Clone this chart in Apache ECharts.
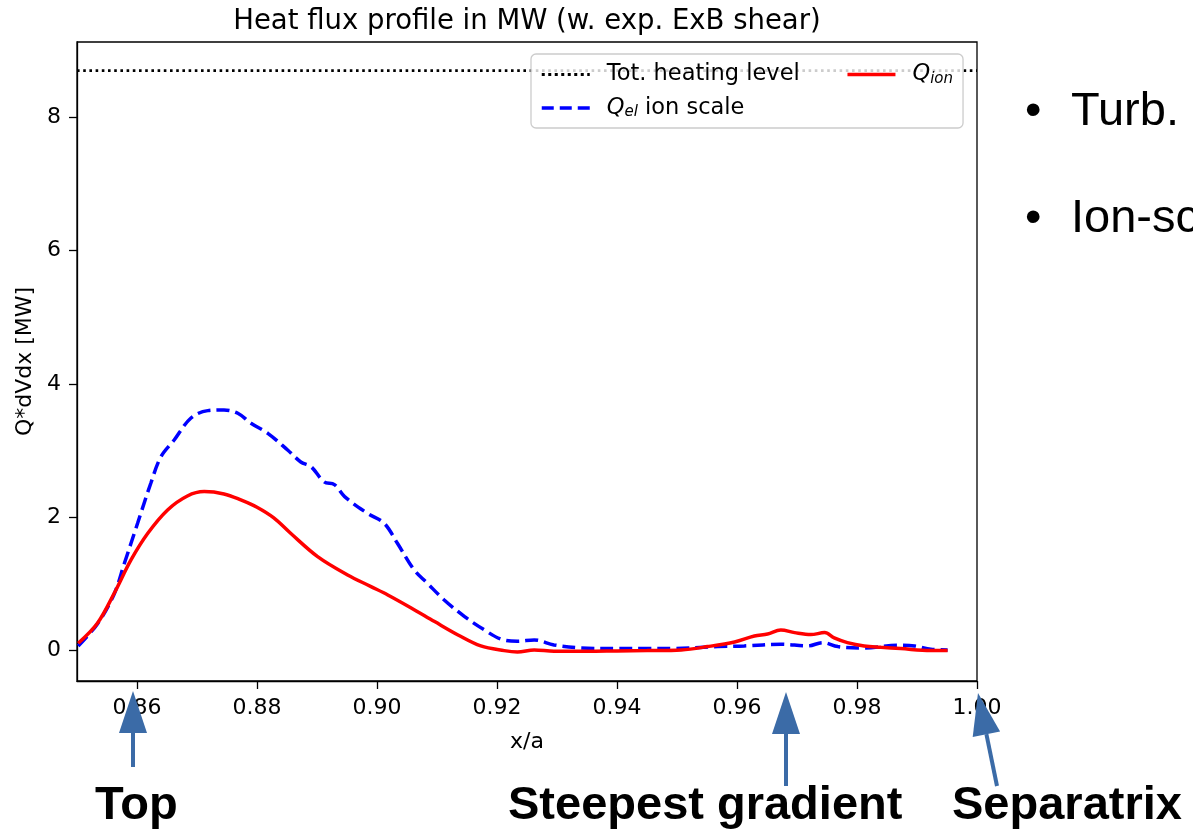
<!DOCTYPE html>
<html>
<head>
<meta charset="utf-8">
<script src="https://cdn.jsdelivr.net/npm/echarts@6/dist/echarts.min.js"></script>
<style>
html,body{margin:0;padding:0;background:#fff;}
#chart{width:1193px;height:830px;}
</style>
</head>
<body>
<div id="chart"></div>
<script>
// ---- data ----
var xTicks = [0.86, 0.88, 0.90, 0.92, 0.94, 0.96, 0.98, 1.00];
var yTicks = [0, 2, 4, 6, 8];
var heatingLevel = 8.7;
var heatingX = [0.85, 1.00];

var xIon = [0.8502, 0.8534, 0.8562, 0.859, 0.8618, 0.8651, 0.8684, 0.8712, 0.8745, 0.8773, 0.880, 0.8828, 0.8856, 0.8901, 0.8951, 0.899, 0.9018, 0.9057, 0.9096, 0.9135, 0.9173, 0.9212, 0.9234, 0.9262, 0.9295, 0.935, 0.940, 0.945, 0.9507, 0.9551, 0.9596, 0.9629, 0.9651, 0.9673, 0.9696, 0.9723, 0.9746, 0.9762, 0.9784, 0.9812, 0.984, 0.9873, 0.9923, 0.9951];
var yIon = [0.11, 0.41, 0.86, 1.36, 1.76, 2.11, 2.32, 2.385, 2.35, 2.26, 2.15, 1.99, 1.76, 1.41, 1.135, 0.96, 0.835, 0.64, 0.435, 0.235, 0.07, 0.0, -0.02, 0.01, -0.01, -0.01, -0.005, 0.0, 0.01, 0.06, 0.13, 0.22, 0.25, 0.31, 0.27, 0.24, 0.27, 0.19, 0.12, 0.07, 0.05, 0.03, 0.0, 0.0];

var xEl = [0.8502, 0.8534, 0.8562, 0.8579, 0.8601, 0.8623, 0.864, 0.8662, 0.869, 0.8718, 0.8745, 0.8768, 0.879, 0.8818, 0.8851, 0.8873, 0.889, 0.8912, 0.8929, 0.8946, 0.8984, 0.9012, 0.9034, 0.9062, 0.9084, 0.9112, 0.9146, 0.9179, 0.9207, 0.9234, 0.9262, 0.9295, 0.934, 0.940, 0.945, 0.949, 0.9568, 0.9612, 0.9673, 0.9718, 0.9743, 0.9768, 0.9812, 0.9868, 0.9896, 0.9923, 0.9951];
var yEl = [0.07, 0.40, 0.85, 1.31, 1.91, 2.51, 2.91, 3.16, 3.49, 3.60, 3.61, 3.56, 3.41, 3.26, 3.01, 2.83, 2.76, 2.53, 2.49, 2.31, 2.06, 1.91, 1.61, 1.21, 1.01, 0.76, 0.51, 0.31, 0.17, 0.14, 0.16, 0.085, 0.04, 0.03, 0.03, 0.03, 0.06, 0.07, 0.095, 0.07, 0.12, 0.06, 0.04, 0.08, 0.07, 0.02, 0.01];

function zip(a, b) { return a.map(function (v, i) { return [v, b[i]]; }); }

var FONT = 'DejaVu Sans';
var ARROW = '#3b6ba7';

var chart = echarts.init(document.getElementById('chart'), null, {renderer: 'canvas'});

function arrowV(x, yTail, yBase, yTip) {
  return [
    {type: 'rect', shape: {x: x - 2, y: yBase - 1, width: 4, height: yTail - yBase + 1}, style: {fill: ARROW}, z: 100},
    {type: 'polygon', shape: {points: [[x - 14, yBase], [x + 14, yBase], [x, yTip]]}, style: {fill: ARROW}, z: 100}
  ];
}

var graphics = [].concat(
  arrowV(133, 767, 733, 691),
  arrowV(786, 786, 734, 692),
  [
    {type: 'polyline', shape: {points: [[997, 786], [986.4, 734.2]]}, style: {stroke: ARROW, lineWidth: 4, fill: null}, z: 100},
    {type: 'polygon', shape: {points: [[1000.1, 731.4], [972.7, 737.0], [978, 693]]}, style: {fill: ARROW}, z: 100},
    {type: 'text', left: 95, top: 783, style: {text: 'Top', font: 'bold 47px "Liberation Sans"', fill: '#000'}, z: 100},
    {type: 'text', left: 508, top: 783, style: {text: 'Steepest gradient', font: 'bold 47px "Liberation Sans"', fill: '#000'}, z: 100},
    {type: 'text', left: 952, top: 783, style: {text: 'Separatrix', font: 'bold 47px "Liberation Sans"', fill: '#000'}, z: 100},
    {type: 'text', left: 1025, top: 89, style: {text: '\u2022', font: '47px "Liberation Sans"', fill: '#000'}, z: 100},
    {type: 'text', left: 1071, top: 89, style: {text: 'Turb.', font: '47px "Liberation Sans"', fill: '#000'}, z: 100},
    {type: 'text', left: 1025, top: 196, style: {text: '\u2022', font: '47px "Liberation Sans"', fill: '#000'}, z: 100},
    {type: 'text', left: 1071, top: 196, style: {text: 'Ion-sc', font: '47px "Liberation Sans"', fill: '#000'}, z: 100}
  ]
);

var option = {
  animation: false,
  backgroundColor: '#ffffff',
  title: {
    text: 'Heat flux profile in MW (w. exp. ExB shear)',
    left: 522,
    textAlign: 'center',
    top: 3,
    textStyle: {fontFamily: FONT, fontSize: 27.5, fontWeight: 'normal', color: '#000'}
  },
  grid: {
    left: 77, right: 216, top: 42, bottom: 149,
    show: true, borderColor: '#000', borderWidth: 1.3, backgroundColor: 'transparent',
    containLabel: false
  },
  legend: {
    data: [
      {name: 'Tot. heating level', lineStyle: {width: 3, type: [3, 3.5], color: '#000'}},
      {name: 'Q_ion', lineStyle: {width: 3.5, color: '#ff0000'}},
      {name: 'Q_el ion scale', lineStyle: {width: 3.5, type: [12, 6], color: '#0000ff'}}
    ],
    left: 531, top: 54,
    width: 430,
    orient: 'horizontal',
    itemWidth: 48, itemHeight: 14,
    itemGap: 10,
    padding: [9, 10, 8, 9],
    selectedMode: false,
    backgroundColor: 'rgba(255,255,255,0.8)',
    borderColor: '#cccccc', borderWidth: 1.3, borderRadius: 5,
    itemStyle: {color: 'rgba(0,0,0,0)', borderColor: 'rgba(0,0,0,0)', borderWidth: 0, opacity: 0},
    formatter: function (name) {
      if (name === 'Q_ion') return '{i|Q}{s|ion}';
      if (name === 'Q_el ion scale') return '{i|Q}{s|el}{n| ion scale}';
      return '{n|Tot. heating level}{g| }';
    },
    textStyle: {
      fontFamily: FONT, fontSize: 22.5, color: '#000', padding: [0, 0, 0, 12],
      rich: {
        n: {fontFamily: FONT, fontSize: 22.5, lineHeight: 24, color: '#000'},
        i: {fontFamily: FONT, fontSize: 22.5, lineHeight: 24, fontStyle: 'italic', color: '#000'},
        s: {fontFamily: FONT, fontSize: 15, lineHeight: 9, fontStyle: 'italic', verticalAlign: 'bottom', color: '#000'},
        g: {fontFamily: FONT, fontSize: 22, lineHeight: 24, padding: [0, 29, 0, 0]}
      }
    }
  },
  xAxis: {
    type: 'value',
    min: 0.85, max: 1.00,
    name: 'x/a', nameLocation: 'middle', nameGap: 50,
    nameTextStyle: {fontFamily: FONT, fontSize: 22, color: '#000'},
    axisLine: {show: true, onZero: false, lineStyle: {color: '#000', width: 1.3}},
    axisTick: {show: true, length: 8, lineStyle: {color: '#000', width: 1.3}, customValues: xTicks},
    axisLabel: {
      margin: 16, fontFamily: FONT, fontSize: 22, color: '#000',
      customValues: xTicks,
      formatter: function (v) { return v.toFixed(2); }
    },
    splitLine: {show: false}
  },
  yAxis: {
    type: 'value',
    min: -0.456, max: 9.13,
    name: 'Q*dVdx [MW]', nameLocation: 'middle', nameGap: 36, nameRotate: 90,
    nameTextStyle: {fontFamily: FONT, fontSize: 22, color: '#000'},
    axisLine: {show: true, onZero: false, lineStyle: {color: '#000', width: 1.3}},
    axisTick: {show: true, length: 8, lineStyle: {color: '#000', width: 1.3}, customValues: yTicks},
    axisLabel: {
      margin: 16, fontFamily: FONT, fontSize: 22, color: '#000',
      customValues: yTicks,
      formatter: function (v) { return String(Math.round(v)); }
    },
    splitLine: {show: false}
  },
  series: [
    {
      name: 'Tot. heating level', type: 'line',
      data: heatingX.map(function (x) { return [x, heatingLevel]; }),
      symbol: 'none', silent: true,
      lineStyle: {color: '#000', width: 2.6, type: [2.6, 3.6], cap: 'butt'},
      itemStyle: {color: '#000'}, z: 2
    },
    {
      name: 'Q_el ion scale', type: 'line',
      data: zip(xEl, yEl),
      symbol: 'none', smooth: 0.35, silent: true,
      lineStyle: {color: '#0000ff', width: 3.5, type: [13, 6], cap: 'butt'},
      itemStyle: {color: '#0000ff'}, z: 3
    },
    {
      name: 'Q_ion', type: 'line',
      data: zip(xIon, yIon),
      symbol: 'none', smooth: 0.35, silent: true,
      lineStyle: {color: '#ff0000', width: 3.5},
      itemStyle: {color: '#ff0000'}, z: 4
    }
  ],
  graphic: graphics
};

chart.setOption(option);
</script>
</body>
</html>
